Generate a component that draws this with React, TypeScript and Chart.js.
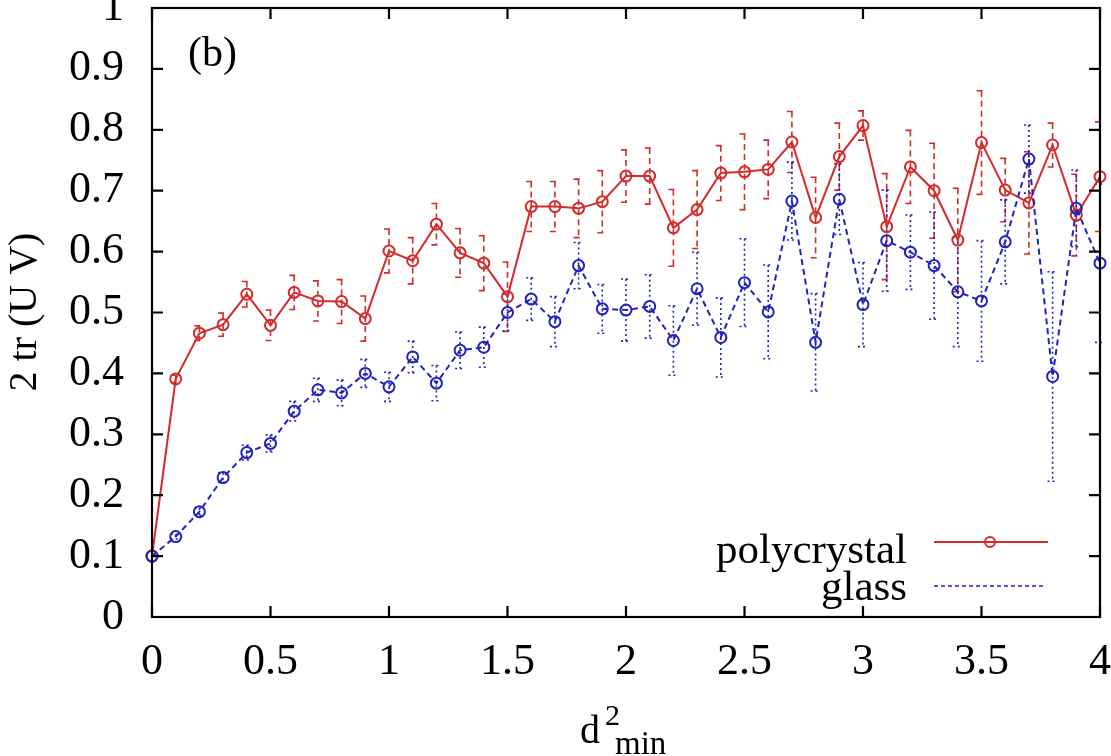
import { useEffect, useRef } from 'react';
import { Chart, registerables } from 'chart.js';

Chart.register(...registerables);

// ---- data ----
const xValues = [
  0, 0.1, 0.2, 0.3, 0.4, 0.5, 0.6, 0.7, 0.8, 0.9,
  1.0, 1.1, 1.2, 1.3, 1.4, 1.5, 1.6, 1.7, 1.8, 1.9,
  2.0, 2.1, 2.2, 2.3, 2.4, 2.5, 2.6, 2.7, 2.8, 2.9,
  3.0, 3.1, 3.2, 3.3, 3.4, 3.5, 3.6, 3.7, 3.8, 3.9, 4.0,
];

const polyY = [
  0.100, 0.391, 0.466, 0.480, 0.530, 0.479, 0.533, 0.519, 0.518, 0.490,
  0.601, 0.585, 0.645, 0.598, 0.581, 0.526, 0.674, 0.674, 0.671, 0.682,
  0.724, 0.724, 0.639, 0.669, 0.729, 0.731, 0.735, 0.780, 0.656, 0.756,
  0.807, 0.641, 0.739, 0.700, 0.619, 0.779, 0.701, 0.680, 0.775, 0.660, 0.723,
];
const polyErr = [
  0, 0.006, 0.012, 0.019, 0.021, 0.025, 0.028, 0.033, 0.036, 0.037,
  0.036, 0.038, 0.034, 0.040, 0.045, 0.057, 0.041, 0.041, 0.048, 0.051,
  0.043, 0.046, 0.063, 0.064, 0.045, 0.062, 0.048, 0.050, 0.066, 0.055,
  0.024, 0.087, 0.060, 0.078, 0.085, 0.085, 0.052, 0.084, 0.036, 0.067, 0.090,
];

const glassY = [
  0.100, 0.132, 0.173, 0.229, 0.270, 0.285, 0.338, 0.373, 0.368, 0.400,
  0.378, 0.427, 0.384, 0.438, 0.443, 0.500, 0.522, 0.485, 0.577, 0.506,
  0.504, 0.510, 0.454, 0.539, 0.459, 0.549, 0.501, 0.683, 0.451, 0.686,
  0.513, 0.618, 0.599, 0.577, 0.534, 0.519, 0.616, 0.752, 0.395, 0.671, 0.581,
];
const glassErr = [
  0, 0.004, 0.006, 0.008, 0.012, 0.014, 0.016, 0.019, 0.021, 0.023,
  0.024, 0.026, 0.029, 0.030, 0.033, 0.030, 0.035, 0.041, 0.038, 0.040,
  0.051, 0.052, 0.057, 0.060, 0.065, 0.072, 0.077, 0.064, 0.080, 0.058,
  0.069, 0.083, 0.061, 0.088, 0.090, 0.099, 0.069, 0.056, 0.172, 0.063, 0.130,
];

const seriesNames = ['polycrystal', 'glass'];
const panelLabel = '(b)';
const yTitle = '2 tr (U V)';

// ---- styling ----
const FONT = '"Liberation Serif", "Times New Roman", serif';
const RED = '#d42a2a';
const BLUE = '#2222bd';
const PAD_TOP = 60;
const SHIFT = PAD_TOP - 8; // canvas shifted up so the top is cropped like the reference
const VIEW_W = 1111;
const CANVAS_W = 1132;
const CANVAS_H = 756 + SHIFT;
const PLOT_H = 609;

const errorBarPlugin = {
  id: 'errorBars',
  beforeDatasetsDraw(chart: any) {
    const { ctx } = chart;
    const xs = chart.scales.x;
    const ys = chart.scales.y;
    const draw = (vals: number[], errs: number[], color: string, dash: number[]) => {
      ctx.save();
      ctx.strokeStyle = color;
      ctx.lineWidth = 1.6;
      ctx.setLineDash(dash);
      xValues.forEach((xv, i) => {
        const e = errs[i];
        if (!e) return;
        const px = xs.getPixelForValue(xv);
        const top = ys.getPixelForValue(vals[i] + e);
        const bot = ys.getPixelForValue(vals[i] - e);
        ctx.beginPath();
        ctx.moveTo(px, top);
        ctx.lineTo(px, bot);
        ctx.moveTo(px - 5, top);
        ctx.lineTo(px + 5, top);
        ctx.moveTo(px - 5, bot);
        ctx.lineTo(px + 5, bot);
        ctx.stroke();
      });
      ctx.restore();
    };
    draw(polyY, polyErr, RED, [6, 4]);
    draw(glassY, glassErr, BLUE, [2, 3]);
  },
};

const framePlugin = {
  id: 'frame',
  afterDraw(chart: any) {
    const { ctx, chartArea: a } = chart;
    const xs = chart.scales.x;
    const ys = chart.scales.y;
    ctx.save();
    ctx.strokeStyle = '#000';
    ctx.lineWidth = 2.2;
    ctx.setLineDash([]);
    ctx.strokeRect(a.left, a.top, a.right - a.left, a.bottom - a.top);
    const L = 11;
    ctx.beginPath();
    xs.ticks.forEach((t: any) => {
      const px = xs.getPixelForValue(t.value);
      ctx.moveTo(px, a.bottom);
      ctx.lineTo(px, a.bottom - L);
      ctx.moveTo(px, a.top);
      ctx.lineTo(px, a.top + L);
    });
    ys.ticks.forEach((t: any) => {
      const py = ys.getPixelForValue(t.value);
      ctx.moveTo(a.left, py);
      ctx.lineTo(a.left + L, py);
      ctx.moveTo(a.right, py);
      ctx.lineTo(a.right - L, py);
    });
    ctx.stroke();
    ctx.restore();
  },
};

const textPlugin = {
  id: 'texts',
  afterDraw(chart: any) {
    const { ctx } = chart;
    ctx.save();
    ctx.fillStyle = '#000';
    ctx.textBaseline = 'alphabetic';

    // panel label
    ctx.font = `42px ${FONT}`;
    ctx.textAlign = 'left';
    ctx.fillText(panelLabel, 188, 66 + SHIFT);

    // y axis title
    ctx.save();
    ctx.translate(36, 312 + SHIFT);
    ctx.rotate(-Math.PI / 2);
    ctx.textAlign = 'center';
    ctx.font = `40px ${FONT}`;
    ctx.fillText(yTitle, 0, 0);
    ctx.restore();

    // x axis title: d^2_min
    ctx.textAlign = 'left';
    ctx.font = `40px ${FONT}`;
    ctx.fillText('d', 580, 743 + SHIFT);
    ctx.font = `30px ${FONT}`;
    ctx.fillText('2', 605, 725 + SHIFT);
    ctx.font = `33px ${FONT}`;
    ctx.fillText('min', 615, 754 + SHIFT);

    // legend
    ctx.font = `43px ${FONT}`;
    ctx.textAlign = 'right';
    ctx.fillText(seriesNames[0], 907, 563 + SHIFT);
    ctx.fillText(seriesNames[1], 907, 600 + SHIFT);

    ctx.lineWidth = 1.8;
    ctx.strokeStyle = RED;
    ctx.setLineDash([]);
    ctx.beginPath();
    ctx.moveTo(934, 542 + SHIFT);
    ctx.lineTo(1048, 542 + SHIFT);
    ctx.stroke();
    ctx.lineWidth = 2;
    ctx.beginPath();
    ctx.arc(990, 542 + SHIFT, 5, 0, Math.PI * 2);
    ctx.stroke();

    ctx.strokeStyle = BLUE;
    ctx.lineWidth = 1.6;
    ctx.setLineDash([4, 3]);
    ctx.beginPath();
    ctx.moveTo(934, 586 + SHIFT);
    ctx.lineTo(1046, 586 + SHIFT);
    ctx.stroke();
    ctx.restore();
  },
};

function fmt(v: number) {
  return String(Math.round(v * 10) / 10);
}

export default function App() {
  const ref = useRef<HTMLCanvasElement>(null);

  useEffect(() => {
    if (!ref.current) return;
    const chart = new Chart(ref.current, {
      type: 'line',
      data: {
        datasets: [
          {
            label: seriesNames[1],
            data: xValues.map((x, i) => ({ x, y: glassY[i] })),
            borderColor: BLUE,
            borderWidth: 2,
            borderDash: [6, 4],
            pointRadius: 5.5,
            pointBorderWidth: 2,
            pointBorderColor: BLUE,
            pointBackgroundColor: 'rgba(0,0,0,0)',
            tension: 0,
            clip: false as any,
            order: 1,
          },
          {
            label: seriesNames[0],
            data: xValues.map((x, i) => ({ x, y: polyY[i] })),
            borderColor: RED,
            borderWidth: 2,
            pointRadius: 5.5,
            pointBorderWidth: 2,
            pointBorderColor: RED,
            pointBackgroundColor: 'rgba(0,0,0,0)',
            tension: 0,
            clip: false as any,
            order: 2,
          },
        ],
      },
      options: {
        animation: false,
        responsive: false,
        devicePixelRatio: 1,
        layout: { padding: { top: PAD_TOP, right: CANVAS_W - 1100, left: 0, bottom: 0 } },
        plugins: {
          legend: { display: false },
          tooltip: { enabled: false },
          title: { display: false },
        },
        scales: {
          x: {
            type: 'linear',
            min: 0,
            max: 4,
            grid: { display: false, drawTicks: false },
            border: { display: false },
            ticks: {
              stepSize: 0.5,
              padding: 19,
              color: '#000',
              font: { family: FONT, size: 44 },
              maxRotation: 0,
              callback: (v: any) => fmt(Number(v)),
            },
            afterFit: (scale: any) => {
              scale.height = CANVAS_H - PAD_TOP - PLOT_H;
            },
          },
          y: {
            type: 'linear',
            min: 0,
            max: 1,
            grid: { display: false, drawTicks: false },
            border: { display: false },
            ticks: {
              stepSize: 0.1,
              padding: 28,
              color: '#000',
              font: { family: FONT, size: 44 },
              callback: (v: any) => fmt(Number(v)),
            },
            afterFit: (scale: any) => {
              scale.width = 152;
            },
          },
        },
      },
      plugins: [errorBarPlugin, framePlugin, textPlugin],
    });
    return () => chart.destroy();
  }, []);

  return (
    <div
      style={{
        position: 'absolute',
        left: 0,
        top: 0,
        width: VIEW_W,
        height: 756,
        overflow: 'hidden',
        background: '#fff',
      }}
    >
      <canvas
        ref={ref}
        width={CANVAS_W}
        height={CANVAS_H}
        style={{
          position: 'absolute',
          left: 0,
          top: -SHIFT,
          width: CANVAS_W,
          height: CANVAS_H,
          display: 'block',
        }}
      />
    </div>
  );
}
